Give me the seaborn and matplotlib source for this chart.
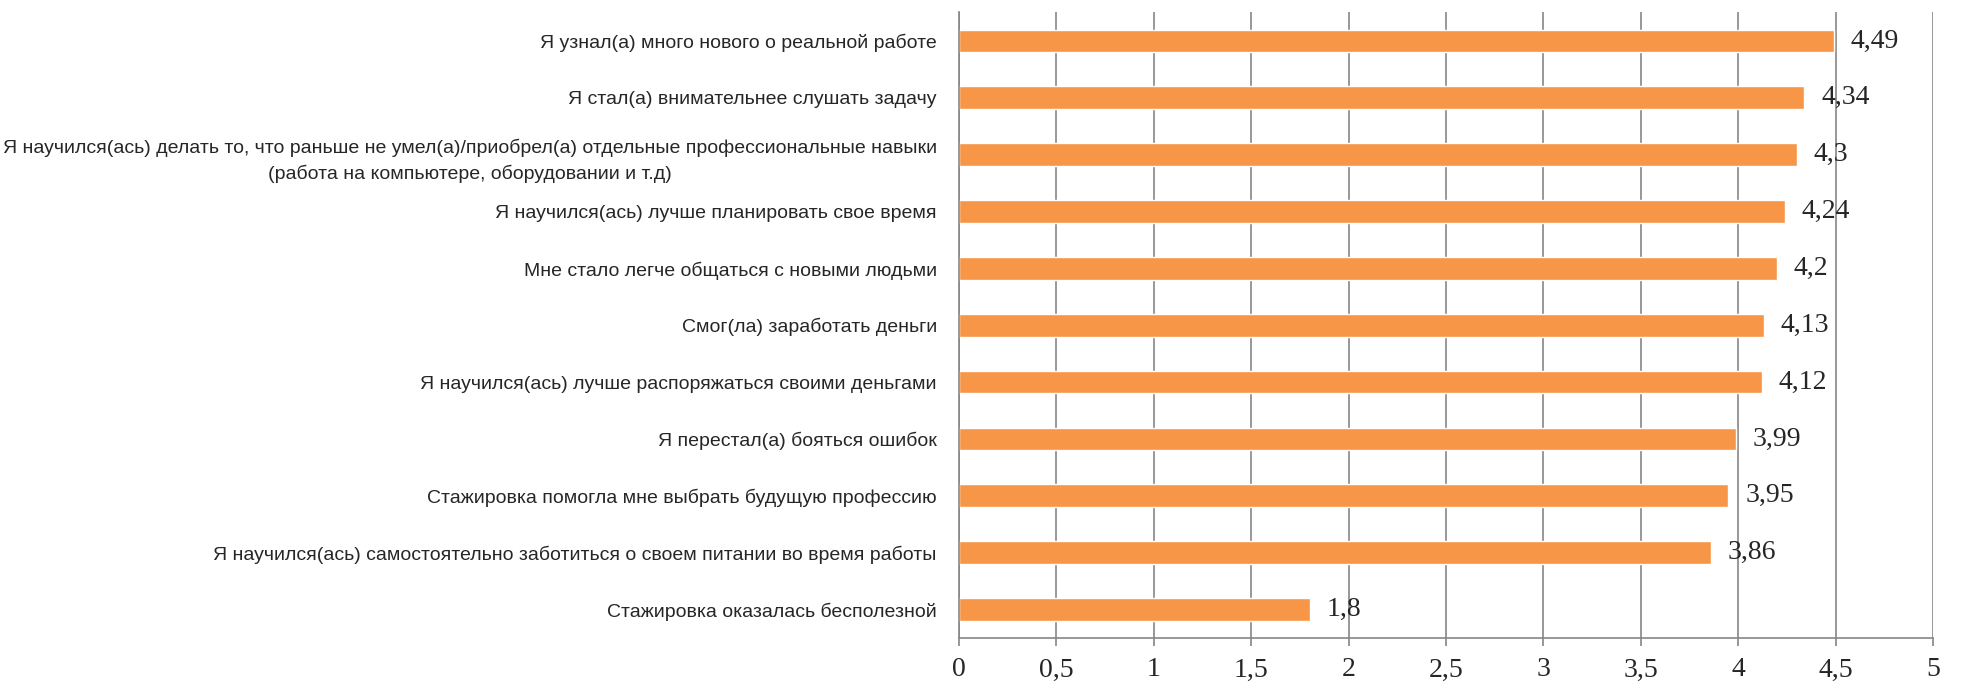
import numpy as np
import pandas as pd
import matplotlib
matplotlib.use("Agg")
import matplotlib.pyplot as plt
import seaborn as sns
from matplotlib.ticker import FuncFormatter, MultipleLocator

# data
labels = [
    "Я узнал(а) много нового о реальной работе",
    "Я стал(а) внимательнее слушать задачу",
    "Я научился(ась) делать то, что раньше не умел(а)/приобрел(а) отдельные профессиональные навыки\n(работа на компьютере, оборудовании и т.д)",
    "Я научился(ась) лучше планировать свое время",
    "Мне стало легче общаться с новыми людьми",
    "Смог(ла) заработать деньги",
    "Я научился(ась) лучше распоряжаться своими деньгами",
    "Я перестал(а) бояться ошибок",
    "Стажировка помогла мне выбрать будущую профессию",
    "Я научился(ась) самостоятельно заботиться о своем питании во время работы",
    "Стажировка оказалась бесполезной",
]
values = [4.49, 4.34, 4.3, 4.24, 4.2, 4.13, 4.12, 3.99, 3.95, 3.86, 1.8]

df = pd.DataFrame({"label": labels, "value": values})

sns.set_style("white")
sans = ["Liberation Sans", "DejaVu Sans"]
serif = ["Liberation Serif", "DejaVu Serif"]

fig = plt.figure(figsize=(19.68, 6.94), dpi=100)
ax = fig.add_axes([0.4873, 0.0807, 0.4949, 0.9013])

sns.barplot(data=df, x="value", y="label", orient="h", color="#F79646",
            saturation=1, width=0.4, ax=ax)

ax.set_xlim(0, 5)
ax.set_ylim(len(labels) - 0.5, -0.5)
ax.xaxis.set_major_locator(MultipleLocator(0.5))
ax.xaxis.set_major_formatter(FuncFormatter(lambda v, p: f"{v:g}".replace(".", ",")))
ax.grid(axis="x", color="#868686", linewidth=1.2)
ax.set_axisbelow(True)
ax.set_xlabel("")
ax.set_ylabel("")

for s in ["top", "right"]:
    ax.spines[s].set_visible(False)
for s in ["left", "bottom"]:
    ax.spines[s].set_color("#868686")
    ax.spines[s].set_linewidth(1.2)

# category boundaries as ticks on the left
ax.set_yticks(np.arange(-0.5, len(labels), 1), minor=True)
ax.tick_params(axis="y", which="minor", length=5, color="#868686", width=1.2)
ax.tick_params(axis="y", which="major", length=0, pad=16)
ax.tick_params(axis="x", which="major", length=6, color="#868686", width=1.2,
               direction="out", bottom=True, pad=8)

for t in ax.get_yticklabels():
    t.set_family(sans)
    t.set_fontsize(14)
    t.set_horizontalalignment("right")
    t.set_multialignment("center")
    t.set_linespacing(1.55)
for t in ax.get_xticklabels():
    t.set_family(serif)
    t.set_fontsize(20)

ax.bar_label(ax.containers[0], labels=[f"{v:g}".replace(".", ",") for v in values],
             padding=12, fontsize=20, family=serif)

fig.savefig("out.png", dpi=100)
